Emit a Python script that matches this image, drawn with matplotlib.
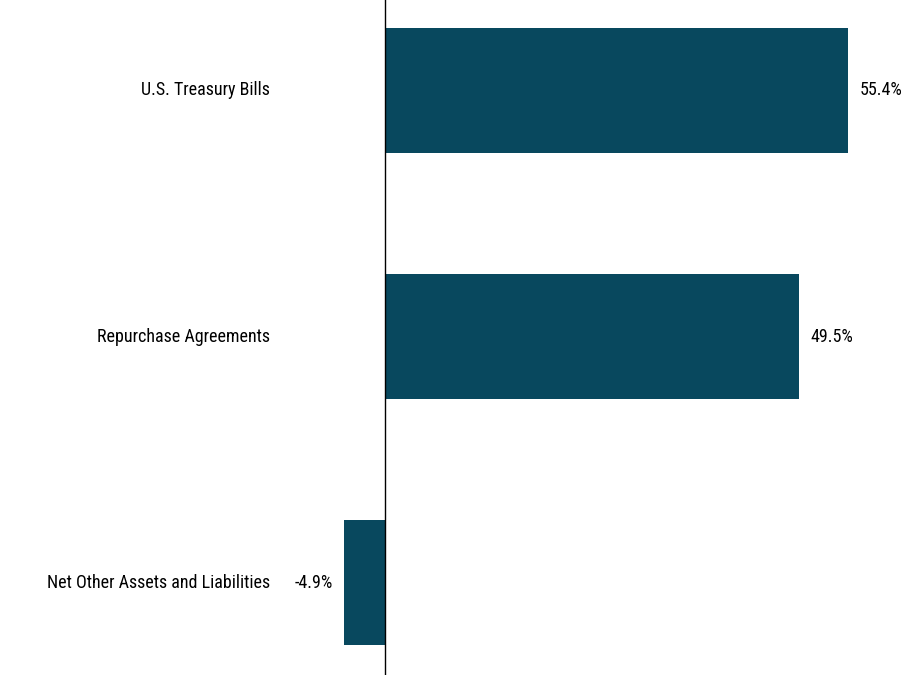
import matplotlib
matplotlib.use('Agg')
import matplotlib.pyplot as plt
from matplotlib import font_manager

categories = ['U.S. Treasury Bills', 'Repurchase Agreements', 'Net Other Assets and Liabilities']
values = [55.4, 49.5, -4.9]
value_labels = ['55.4%', '49.5%', '-4.9%']

# condensed sans like Arial Narrow, whichever is installed
names = {f.name for f in font_manager.fontManager.ttflist}
wanted = ['Liberation Sans Narrow', 'Arial Narrow', 'Nimbus Sans Narrow',
          'Roboto Condensed', 'Archivo Narrow', 'Liberation Sans', 'DejaVu Sans']
family = [f for f in wanted if f in names] or ['DejaVu Sans']
plt.rcParams['font.family'] = family

bar_color = '#08485e'
fs = 13

fig = plt.figure(figsize=(9.10, 6.75), dpi=100)
ax = fig.add_axes([0, 0, 1, 1])

pos = list(range(len(categories)))
ax.barh(pos, values, height=0.507, color=bar_color)
ax.axvline(0, color='black', linewidth=1.0)

ax.set_xlim(-46.07, 62.82)
ax.set_ylim(2.374, -0.3675)

for i, (cat, v, lab) in enumerate(zip(categories, values, value_labels)):
    ax.annotate(cat, xy=(0, i), xytext=(-115 * 0.72, 0), textcoords='offset points',
                ha='right', va='center', fontsize=fs, color='black')
    if v >= 0:
        ax.annotate(lab, xy=(v, i), xytext=(12 * 0.72, 0), textcoords='offset points',
                    ha='left', va='center', fontsize=fs, color='black')
    else:
        ax.annotate(lab, xy=(v, i), xytext=(-11 * 0.72, 0), textcoords='offset points',
                    ha='right', va='center', fontsize=fs, color='black')

ax.axis('off')
fig.savefig('out.png', dpi=100)
